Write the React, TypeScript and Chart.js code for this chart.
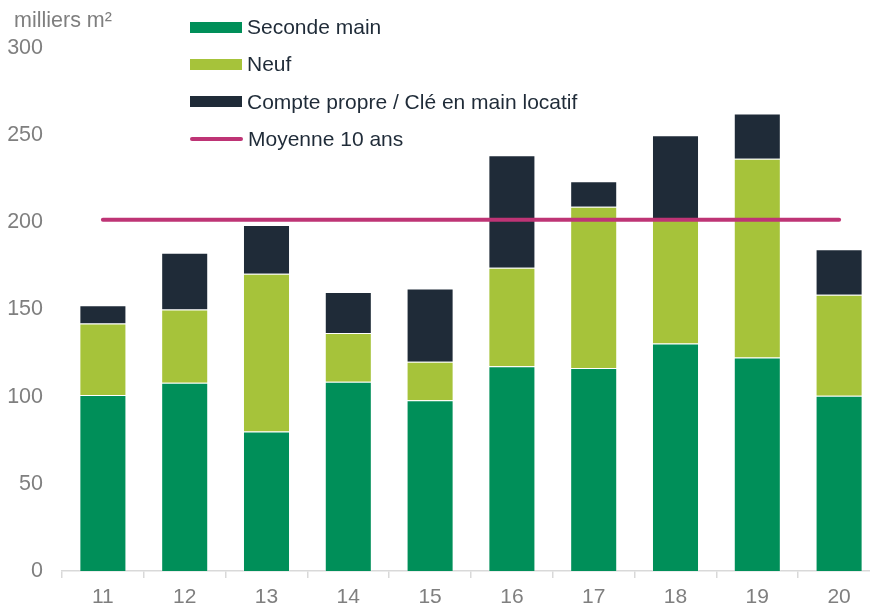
import React, { useEffect, useRef } from "react";
import { Chart, registerables } from "chart.js";

Chart.register(...registerables);

const categories = ["11", "12", "13", "14", "15", "16", "17", "18", "19", "20"];
const secondeMain = [101, 108, 80, 108.5, 98, 117.5, 116.5, 130.5, 122.5, 100.5];
const neuf = [41, 42, 90.5, 28, 22, 56.5, 92.5, 71.5, 114, 58];
const comptePropre = [10.5, 32.5, 28, 23.5, 42, 64.5, 14.5, 48, 26, 26];
const moyenne10ans = [201.5, 201.5, 201.5, 201.5, 201.5, 201.5, 201.5, 201.5, 201.5, 201.5];
const yTicks = [0, 50, 100, 150, 200, 250, 300];

const legendItems = [
  { label: "Seconde main", color: "#008F59", line: false },
  { label: "Neuf", color: "#A6C33A", line: false },
  { label: "Compte propre / Clé en main locatif", color: "#1F2B38", line: false },
  { label: "Moyenne 10 ans", color: "#BE3475", line: true },
];

const FONT = "'Liberation Sans', Arial, sans-serif";

export default function App() {
  const ref = useRef<HTMLCanvasElement | null>(null);

  useEffect(() => {
    if (!ref.current) return;
    const chart = new Chart(ref.current, {
      type: "bar",
      data: {
        labels: categories,
        datasets: [
          {
            type: "line",
            label: "Moyenne 10 ans",
            data: moyenne10ans,
            borderColor: "#BE3475",
            backgroundColor: "#BE3475",
            borderWidth: 4,
            pointRadius: 0,
            borderCapStyle: "round",
            stack: "mean",
            order: 0,
          } as any,
          {
            label: "Seconde main",
            data: secondeMain,
            backgroundColor: "#008F59",
            borderColor: "rgba(255,255,255,0.35)",
            borderWidth: 1,
            stack: "a",
            order: 1,
          },
          {
            label: "Neuf",
            data: neuf,
            backgroundColor: "#A6C33A",
            borderColor: "rgba(255,255,255,0.35)",
            borderWidth: 1,
            stack: "a",
            order: 1,
          },
          {
            label: "Compte propre / Clé en main locatif",
            data: comptePropre,
            backgroundColor: "#1F2B38",
            borderColor: "rgba(255,255,255,0.35)",
            borderWidth: 1,
            stack: "a",
            order: 1,
          },
        ],
      },
      options: {
        animation: false,
        responsive: false,
        maintainAspectRatio: false,
        layout: { padding: { top: 48, left: 0, right: 0, bottom: 0 } },
        datasets: { bar: { categoryPercentage: 1, barPercentage: 0.575 } } as any,
        plugins: {
          legend: { display: false },
          tooltip: { enabled: false },
        },
        scales: {
          x: {
            stacked: true,
            grid: {
              display: true,
              drawOnChartArea: false,
              drawTicks: true,
              tickLength: 7,
              color: "#D9D9D9",
              lineWidth: 1.5,
              offset: true,
            },
            border: { display: true, color: "#D9D9D9", width: 1.5 },
            ticks: {
              color: "#7F7F7F",
              font: { family: FONT, size: 21 },
              padding: 7,
              maxRotation: 0,
            },
            afterFit: (s: any) => {
              s.height = 33;
            },
          },
          y: {
            stacked: true,
            min: 0,
            max: 300,
            afterBuildTicks: (s: any) => {
              s.ticks = yTicks.map((v) => ({ value: v }));
            },
            grid: { display: false },
            border: { display: false },
            ticks: {
              color: "#7F7F7F",
              font: { family: FONT, size: 21.5 },
              padding: 11,
            },
            afterFit: (s: any) => {
              s.width = 62;
            },
          },
        },
      },
    });
    return () => chart.destroy();
  }, []);

  return (
    <div style={{ position: "absolute", left: 0, top: 0, width: 880, height: 604, fontFamily: FONT }}>
      <canvas ref={ref} width={880} height={604} style={{ display: "block", width: 880, height: 604 }} />
      <div style={{ position: "absolute", left: 14, top: 8, fontSize: 21.5, color: "#7F7F7F", lineHeight: "24px" }}>
        milliers m²
      </div>
      {legendItems.map((it, i) => (
        <div
          key={it.label}
          style={{
            position: "absolute",
            left: 190,
            top: [27, 64, 101.5, 139][i] - 12,
            height: 24,
            display: "flex",
            alignItems: "center",
            fontSize: 21,
            color: "#1F2B38",
            whiteSpace: "nowrap",
          }}
        >
          <span
            style={{
              display: "inline-block",
              width: it.line ? 53 : 52,
              height: it.line ? 4 : 11,
              borderRadius: it.line ? 2 : 0,
              background: it.color,
              marginRight: 5,
            }}
          />
          <span>{it.label}</span>
        </div>
      ))}
    </div>
  );
}
